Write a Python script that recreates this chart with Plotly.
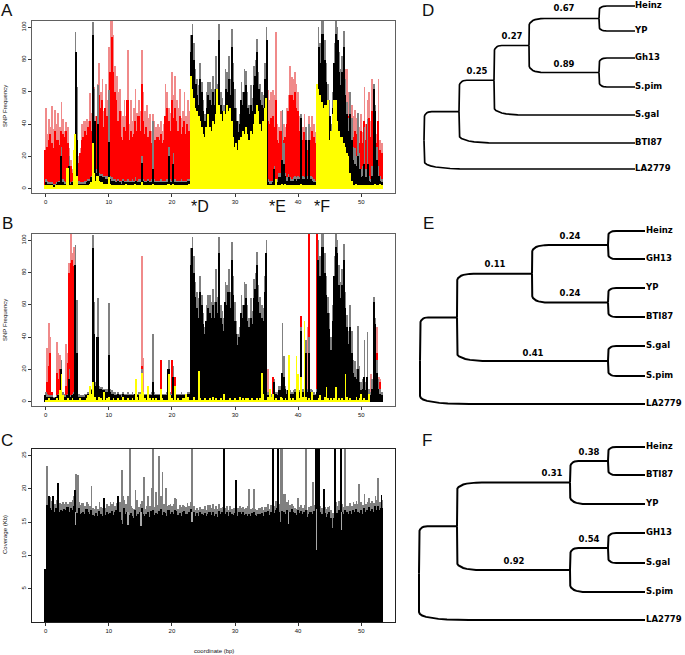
import plotly.graph_objects as go

W, H = 685, 655
bins = [i * 0.25 for i in range(216)]

A_pale = [50,34,43,38, 51,37,49,40, 47,38,54,43, 36,41,38,25, 18,12,18,25, 30,20,25,40, 42,42,43,42,
 59,47,55,63, 45,65,78,60, 68,48,65,55, 88,104,104,95, 76,70,60,62, 48,45,55,45, 86,40,55,42,
 50,62,47,55, 48,86,60,48, 52,44,46,36, 46,42,38,40, 38,42,36,40, 65,60,50,47, 72,58,70,55,
 50,62,44,48, 60,45,55,48, 0,0,0,0, 0,0,0,0, 0,0,0,0, 0,0,0,0, 0,0,0,0, 0,0,0,0, 0,0,0,0, 0,0,0,0,
 0,0,0,0, 0,0,0,0, 0,0,0,0, 0,0,0,0, 0,61,55,60, 61,58,97,40, 38,48,45,40, 38,50,58,76, 69,68,72,65,
 60,45,35,38, 46,35,30,45, 38,45,40,35, 0,0,0,0, 0,0,0,0, 0,0,0,0, 55,85,70,60, 70,85,74,74,
 60,60,52,45, 49,44,47,38, 46,35,63,40, 55,60,42,68, 38,42,34,68, 30,28,0,0]
A_red = [24,26,30,34, 28,25,36,30, 30,27,36,34, 32,36,28,20, 14,10,14,20, 12,16,22,30, 32,36,33,38,
 42,36,48,45, 35,45,58,50, 55,38,50,45, 60,72,94,72, 60,55,42,48, 32,30,38,36, 55,30,36,32,
 34,42,36,45, 36,65,42,34, 38,32,36,28, 35,30,30,32, 30,34,28,30, 45,50,42,36, 55,44,50,42,
 36,45,34,38, 42,34,40,36, 0,0,0,0, 0,0,0,0, 0,0,0,0, 0,0,0,0, 0,0,0,0, 0,0,0,0, 0,0,0,0, 0,0,0,0,
 0,0,0,0, 0,0,0,0, 0,0,0,0, 0,0,0,0, 0,42,40,44, 45,38,55,30, 28,36,34,30, 32,40,48,58, 58,55,60,50,
 48,36,28,30, 35,28,24,36, 30,36,32,28, 0,0,0,0, 0,0,0,0, 0,0,0,0, 0,60,50,45, 55,65,55,50,
 45,42,40,32, 36,34,36,28, 36,28,42,30, 40,44,32,48, 30,34,28,42, 24,22,0,0]
SNP_grey = [6,5,4,4, 4,3,3,4, 5,5,26,6, 5,4,5,20, 4,5,6,97, 63,5,4,4, 4,5,5,6, 6,8,103,62, 12,64,10,9,
 9,8,8,8, 61,8,7,6, 6,5,6,5, 5,6,5,5, 6,5,5,6, 5,7,5,6, 6,20,6,5, 5,6,5,6, 42,6,5,5, 5,6,5,5,
 5,6,26,6, 5,22,6,5, 5,5,6,5, 5,5,6,6, 95,102,90,74, 68,64,78,66, 55,46,60,66, 66,62,70,62,
 82,65,102,60, 56,52,74,72, 82,68,99,78, 62,50,42,46, 66,60,74,73, 60,52,64,56, 76,80,93,72,
 65,60,58,78, 100,6,5,5, 5,14,6,6, 10,10,49,28, 10,7,9,7, 6,7,8,7, 8,7,46,8, 7,38,8,40, 8,7,6,5,
 8,100,90,104, 104,92,78,65, 55,40,60,90, 104,100,85,74, 82,98,68,54, 44,60,44,26, 25,20,47,22,
 12,14,38,12, 43,8,6,14, 65,52,26,14, 8,6,0,0]
SNP_black = [4,3,3,3, 3,2,2,3, 4,4,20,4, 3,3,4,14, 3,4,5,85, 30,3,3,3, 3,3,4,5, 5,7,95,42, 10,40,8,8,
 7,7,6,6, 29,6,5,5, 4,4,5,4, 3,5,4,4, 4,4,4,4, 4,5,4,4, 4,16,5,4, 4,5,4,4, 12,4,4,4, 4,4,4,4,
 4,4,20,4, 4,15,4,4, 4,4,4,4, 4,4,5,5, 85,95,80,65, 58,52,68,60, 48,42,50,58, 55,52,60,52,
 62,55,92,52, 48,44,62,60, 68,58,88,66, 50,42,35,40, 55,52,60,64, 50,46,52,48, 64,70,85,62,
 55,52,50,68, 92,4,3,3, 4,12,5,4, 7,7,18,15, 8,5,7,5, 5,5,6,5, 6,6,44,6, 6,30,6,30, 6,5,4,4,
 6,88,78,96, 96,80,66,55, 45,32,50,78, 96,92,72,64, 72,88,58,46, 36,46,30,18, 15,14,20,12,
 7,8,15,7, 15,5,4,8, 62,48,18,8, 5,4,0,0]
A_yellow = [2,2,2,2, 2,1,1,2, 2,2,2,2, 2,2,13,2, 2,2,24,34, 8,2,2,2, 2,2,2,2, 3,4,28,10, 5,8,5,4,
 4,3,3,3, 7,3,2,2, 2,2,2,2, 2,2,2,3, 2,2,2,2, 2,3,2,2, 2,4,2,2, 2,2,2,2, 3,2,2,2, 2,2,2,2,
 2,2,3,2, 2,3,2,2, 2,2,2,2, 2,2,2,3, 70,62,56,50, 48,45,42,38, 34,32,38,46, 38,36,42,40,
 46,62,52,46, 42,48,46,52, 48,50,42,32, 26,28,24,30, 32,36,34,38, 34,30,36,34, 40,46,52,48,
 40,36,42,50, 56,2,2,2, 2,2,6,2, 2,2,3,2, 3,2,2,2, 2,2,2,2, 2,2,3,2, 2,2,2,2, 2,2,2,2,
 65,62,58,54, 50,52,52,55, 30,36,46,55, 55,42,36,32, 32,28,26,22, 20,10,5,2, 2,3,2,2,
 2,2,2,2, 2,2,2,2, 2,3,2,2, 3,2,0,0]

B_pale_x = [0.25,0.5,0.75,1.75,2.0,2.25,3.25,3.5,3.75,4.0,4.25,4.5,15.25,15.5,35.25,41.5,51.5,52.5,52.75,53.0]
B_pale_y = [33,49,40,37,30,29,36,30,86,104,92,96,90,27,20,46,17,46,15,14]
B_red_x = [0.25,0.5,0.75,1.0,1.75,2.0,2.25,3.25,3.5,3.75,4.0,4.25,4.5,15.25,18.25,20.0,20.5,36.0,40.5,41.75,43.0,52.5,52.75,53.0]
B_red_y = [12,22,30,6,18,14,20,10,24,80,86,88,84,22,26,26,15,15,53,104,104,30,8,12]
B_yellow = [1,1,2,1, 1,1,1,2, 1,7,17,4, 1,1,2,1, 1,2,1,1, 1,1,2,1, 1,1,2,4, 10,5,12,3, 1,1,3,2,
 1,6,1,2, 3,1,1,2, 1,1,2,1, 1,3,1,1, 2,1,1,2, 1,14,3,1, 5,18,6,2, 1,10,2,1, 2,1,2,1, 1,8,2,1,
 1,1,17,4, 2,1,10,1, 2,1,1,2, 2,5,3,1, 1,1,3,1, 1,19,2,1, 1,2,1,1, 2,1,3,1, 2,1,1,2, 1,5,1,1,
 1,2,1,1, 2,1,1,3, 1,2,1,2, 2,1,1,2, 1,1,2,1, 2,18,5,1, 1,3,8,3, 5,1,2,1, 1,3,2,1, 2,1,29,2,
 1,2,1,28, 17,2,15,3, 50,3,1,2, 1,6,1,1, 1,2,4,1, 1,3,9,2, 1,2,1,2, 9,1,2,1, 2,1,17,3,
 1,2,1,1, 1,3,1,2, 5,1,2,1, 1,5,0,0]

C_black = [8,17.6,16.2,17.2, 16.8,17.4,16.6,17.2, 17.1,16.5,16.9,16.7, 17.0,16.8,17.3,16.6, 17.1,16.9,17.5,14.8,
 16.4,17.2,16.2,16.4, 16.6,16.2,17.0,16.5, 16.3,16.9,16.1,15.9, 16.4,16.0,16.7,16.2, 15.9,16.5,16.1,16.6,
 16.2,16.4,16.7,16.1, 16.5,16.9,16.3,16.6, 15.4,14.8,17.2,16.2, 16.6,16.1,16.4,16.0, 15.6,16.9,16.0,16.3,
 16.5,17.1,16.2,15.9, 16.3,16.6,15.8,16.7, 16.9,16.1,16.4,16.2, 16.7,17.0,16.1,16.6, 16.4,16.0,16.8,16.3,
 16.5,16.2,16.9,16.7, 16.1,16.4,16.0,16.5, 16.7,16.3,16.2,16.6, 17.0,16.1,16.5,15.9, 16.4,16.0,16.6,16.2,
 16.1,16.4,15.9,16.3, 16.6,16.1,16.5,16.0, 16.3,15.8,16.7,16.2, 16.6,16.0,16.3,16.5, 15.9,16.6,16.2,16.1,
 16.4,15.9,16.0,16.6, 16.2,16.5,16.1,16.3, 15.9,16.2,16.0,16.4, 16.5,16.1,15.9,16.3, 16.2,16.4,16.0,16.5,
 16.5,16.7,16.1,16.6, 17.0,16.4,16.9,17.2, 16.6,15.0,16.7,16.5, 16.3,16.8,16.1,16.6, 17.0,16.6,16.4,16.1,
 16.9,16.4,16.7,16.2, 16.5,16.8,15.8,16.3, 16.6,16.2,16.7,16.4, 16.5,16.0,16.6,16.2, 15.9,16.4,15.8,16.3,
 16.5,15.6,14.2,15.7, 16.2,16.4,16.8,16.3, 16.6,16.2,16.9,16.5, 16.3,16.7,16.2,16.9, 16.5,17.0,16.6,16.4,
 16.8,16.3,17.1,16.6, 16.9,17.3,16.7,17.0, 16.6,17.4,16.9,17.5, 16.8,17.1,0,0]
C_grey = [8,19,18.4,18.8, 18.2,18.0,17.7,18.4, 17.6,17.9,17.8,18.1, 17.8,18.0,17.7,18.1, 18.0,18.3,19.0,18.2,
 14.6,18.0,17.6,17.9, 17.9,17.4,18.1,17.8, 17.5,17.9,17.2,17.0, 17.5,17.0,18.0,17.3, 17.2,18.3,17.1,17.8,
 17.4,18.0,17.7,18.0, 17.5,17.9,18.2,18.0, 16.4,19.0,18.3,17.7, 18.9,17.8,17.5,17.2, 17.0,19.9,18.4,17.3,
 17.7,18.2,17.6,17.0, 17.4,19.0,17.5,20.2, 17.9,17.3,19.5,17.6, 18.2,19.0,17.4,17.8, 18.2,17.4,17.6,17.8,
 17.4,17.7,18.6,18.5, 17.0,17.6,17.3,17.6, 17.5,17.3,17.9,17.4, 18.0,17.3,17.5,16.9, 17.2,16.8,17.3,17.0,
 17.0,17.4,16.9,17.6, 17.6,17.1,17.7,17.0, 17.5,17.0,17.7,17.2, 17.3,17.0,17.2,17.5, 16.9,17.4,17.0,17.1,
 17.2,16.9,17.1,17.5, 17.2,17.3,17.0,17.2, 17.5,20.0,17.0,17.2, 17.4,17.0,16.9,17.2, 17.1,17.3,16.9,17.3,
 17.3,17.7,17.0,17.6, 18.0,17.5,18.2,17.8, 17.8,16.9,19.0,19.2, 19.2,18.0,18.4,17.6, 17.8,17.4,17.2,17.0,
 18.6,17.3,17.6,17.1, 17.6,17.4,16.9,17.3, 17.4,17.1,17.6,17.3, 17.4,17.0,17.5,17.1, 16.8,17.3,17.0,17.3,
 17.4,16.8,16.4,17.0, 18.0,17.5,18.2,17.4, 17.7,17.3,17.9,17.4, 17.5,17.9,17.4,18.0, 17.7,18.2,17.8,17.5,
 18.0,17.6,19.3,17.8, 18.1,18.6,17.9,18.2, 17.9,18.9,18.4,19.2, 18.0,18.4,0,0]
C_gspike_x = [0.25,4.75,5.1,7.25,12.1,13.4,15.6,17.0,18.0,18.5,19.0,23.2,33.0,37.2,37.4,41.2,42.3,47.4,49.6,52.6]
C_gspike_y = [23.5,22.2,22.1,20.4,22.8,26,21.8,26,25,22.5,20.2,26,20,26,26,26,21,26,20.7,21.7]
C_kspike_x = [0.5,1.1,2.0,4.6,9.2,11.5,28.2,30.2,36.0,36.8,42.8,43.2,43.3,44.1,45.8,45.9,46.8,53.2]
C_kspike_y = [19,19,20.9,19.8,18.7,19,26,21.3,26,26,26,26,26,20,26,26,26,19.1]
C_notch_x = [4.75,13.0,15.1,23.2,38.5,42.9,46.9]
C_notch_low = [14.6,14.6,14.4,15,14.8,10.8,13.8]
C_notch_high = [16.5,16.5,16.5,16.5,16.5,17,16.5]

x_ticks = [0, 10, 20, 30, 40, 50]
snp_ticks = [0, 20, 40, 60, 80, 100]
cov_ticks = [5, 10, 15, 20, 25]

tip_names_D = ["Heinz", "YP", "Gh13", "S.pim", "S.gal", "BTI87", "LA2779"]
tip_rows_D = [6, 31, 58, 87, 115, 143, 169]
node_x_D = [599, 599, 529, 494, 459, 424]
node_kids_D = [(0, 1), (2, 3), (7, 8), (9, 4), (10, 5), (11, 6)]
support_D = ["0.67", "0.89", "0.27", "0.25"]
support_x_D = [564, 564, 512, 477]
support_y_D = [9, 65, 37, 72]

tip_names_E = ["Heinz", "GH13", "YP", "BTI87", "S.gal", "S.pim", "LA2779"]
tip_rows_E = [231, 259, 288, 317, 346, 376, 404]
node_x_E = [608, 608, 608, 532, 457, 420]
node_kids_E = [(0, 1), (2, 3), (4, 5), (7, 8), (10, 9), (11, 6)]
support_E = ["0.24", "0.24", "0.11", "0.41"]
support_x_E = [570, 570, 495, 533]
support_y_E = [237, 294, 265, 354]

tip_names_F = ["Heinz", "BTI87", "YP", "GH13", "S.gal", "S.pim", "LA2779"]
tip_rows_F = [447, 475, 504, 533, 563, 592, 620]
node_x_F = [608, 570, 608, 570, 457, 419]
node_kids_F = [(0, 1), (7, 2), (3, 4), (9, 5), (8, 10), (11, 6)]
support_F = ["0.38", "0.31", "0.54", "0.92"]
support_x_F = [589, 552, 589, 514]
support_y_F = [453, 474, 540, 562]

RED, PALE, GREY, YELLOW = "#ff0000", "#f08a8a", "#808080", "#ffff00"
FONT = "Liberation Sans"

fig = go.Figure()

def bars(x, y, color, xa, ya, width=0.25, base=None):
    fig.add_trace(go.Bar(x=x, y=y, base=base, width=width, marker=dict(color=color, line=dict(width=0)),
                         xaxis=xa, yaxis=ya, showlegend=False, hoverinfo="skip"))

# A
bars(bins, A_pale, PALE, "x", "y", 0.12)
bars(bins, A_red, RED, "x", "y")
bars(bins, SNP_grey, GREY, "x", "y", 0.1)
bars(bins, SNP_black, "#000000", "x", "y", 0.17)
bars(bins, A_yellow, YELLOW, "x", "y")
# B
bars(B_pale_x, B_pale_y, PALE, "x2", "y2", 0.14)
bars(B_red_x, B_red_y, RED, "x2", "y2", 0.2)
bars(bins, SNP_grey, GREY, "x2", "y2", 0.1)
bars(bins, SNP_black, "#000000", "x2", "y2", 0.25)
bars(bins, B_yellow, YELLOW, "x2", "y2", 0.14)
# C
bars(bins, C_grey, GREY, "x3", "y3", 0.1)
bars(C_gspike_x, C_gspike_y, GREY, "x3", "y3", 0.14)
bars(bins, C_black, "#000000", "x3", "y3")
bars(C_kspike_x, C_kspike_y, "#000000", "x3", "y3", 0.12)
bars(C_notch_x, [h - l for h, l in zip(C_notch_high, C_notch_low)], "#a8a8a8", "x3", "y3", 0.1, base=C_notch_low)

def tree(names, rows, node_x, kids, tip_x, label_x, lw):
    xs = [tip_x] * len(rows) + list(node_x)
    ys = list(rows)
    for a, b in kids:
        ys.append((ys[a] + ys[b]) / 2)
    px, py = [], []
    for n, pair in enumerate(kids):
        nx, ny = node_x[n], ys[len(rows) + n]
        for c in pair:
            cx, cy = xs[c], ys[c]
            rx = 0.22 * (cx - nx)
            dy = abs(cy - ny)
            ry = min(8, 0.4 * dy) * (1 if cy > ny else -1)
            px += [nx, nx]
            py += [ny, cy - ry]
            for k in range(1, 9):
                t = k / 8
                px.append(nx + rx * t * t)
                py.append((1 - t) ** 2 * (cy - ry) + (1 - (1 - t) ** 2) * cy)
            px += [cx, None]
            py += [cy, None]
    fig.add_trace(go.Scatter(x=px, y=py, mode="lines", line=dict(color="#000", width=lw),
                             xaxis="x4", yaxis="y4", showlegend=False, hoverinfo="skip"))
    fig.add_trace(go.Scatter(x=[label_x] * len(rows), y=rows, text=names, mode="text", textposition="middle right",
                             textfont=dict(family="DejaVu Sans", size=8.5, color="#000", weight="bold"),
                             xaxis="x4", yaxis="y4", showlegend=False, hoverinfo="skip", cliponaxis=False))

def supports(text, x, y):
    fig.add_trace(go.Scatter(x=x, y=y, text=text, mode="text", textposition="middle center",
                             textfont=dict(family="DejaVu Sans", size=8.5, color="#000", weight="bold"),
                             xaxis="x4", yaxis="y4", showlegend=False, hoverinfo="skip"))

tree(tip_names_D, tip_rows_D, node_x_D, node_kids_D, 635, 635, 1.7)
tree(tip_names_E, tip_rows_E, node_x_E, node_kids_E, 645, 646, 2)
tree(tip_names_F, tip_rows_F, node_x_F, node_kids_F, 645, 646, 2)
supports(support_D, support_x_D, support_y_D)
supports(support_E, support_x_E, support_y_E)
supports(support_F, support_x_F, support_y_F)

def dom_y(top, bottom):
    return [1 - bottom / H, 1 - top / H]

x_dom = [32 / W, 395 / W]
x_range = [-2.17, 55.35]

def xax(box):
    return dict(domain=x_dom, range=x_range, tickvals=x_ticks, ticks="outside", ticklen=3, tickwidth=0.7,
                tickcolor="#333", tickfont=dict(size=6, family=FONT, color="#111"), showgrid=False, zeroline=False,
                showline=True, linecolor=box, linewidth=1, mirror=True, fixedrange=True)

def yax(top, bottom, rng, ticks, box):
    return dict(domain=dom_y(top, bottom), range=rng, tickvals=ticks, ticks="outside", ticklen=3, tickwidth=0.7,
                tickcolor="#333", tickangle=-90, tickfont=dict(size=6, family=FONT, color="#111"), showgrid=False,
                zeroline=False, showline=True, linecolor=box, linewidth=1, mirror=True, fixedrange=True)

BOX = "#606060"
layout = dict(
    width=W, height=H, margin=dict(l=0, r=0, t=0, b=0), paper_bgcolor="#fff", plot_bgcolor="rgba(0,0,0,0)",
    barmode="overlay", bargap=0, showlegend=False,
    xaxis={**xax(BOX), "anchor": "y"}, yaxis={**yax(21, 193, [-2.7, 103.9], snp_ticks, BOX), "anchor": "x"},
    xaxis2={**xax(BOX), "anchor": "y2"}, yaxis2={**yax(234, 406, [-2.7, 103.9], snp_ticks, BOX), "anchor": "x2"},
    xaxis3={**xax("#222"), "anchor": "y3"}, yaxis3={**yax(449, 622, [0, 26], cov_ticks, "#222"), "anchor": "x3"},
    xaxis4=dict(domain=[0, 1], range=[0, W], visible=False, anchor="y4", fixedrange=True),
    yaxis4=dict(domain=[0, 1], range=[H, 0], visible=False, anchor="x4", fixedrange=True),
)
fig.update_layout(**layout)

def note(text, x, y, size, family=FONT, color="#111", angle=0):
    fig.add_annotation(text=text, x=x / W, y=1 - y / H, xref="paper", yref="paper", showarrow=False,
                       xanchor="center", yanchor="middle", textangle=angle,
                       font=dict(size=size, family=family, color=color))

for t, x, y in [("A", 7, 10), ("B", 7, 223), ("C", 7, 440), ("D", 428, 10), ("E", 428, 223), ("F", 427, 440)]:
    note(t, x, y, 17)
for t, x, y in [("*D", 200, 206), ("*E", 277, 206), ("*F", 322, 206)]:
    note(t, x, y, 16)
note("SNP Frequency", 5, 106, 6, angle=-90)
note("SNP Frequency", 5, 320, 6, angle=-90)
note("Coverage (Kb)", 5, 535, 6, angle=-90)
note("coordinate (bp)", 214, 651, 6)

fig.write_html("out.html", post_script="document.body.style.margin='0';", config={"displayModeBar": False})
